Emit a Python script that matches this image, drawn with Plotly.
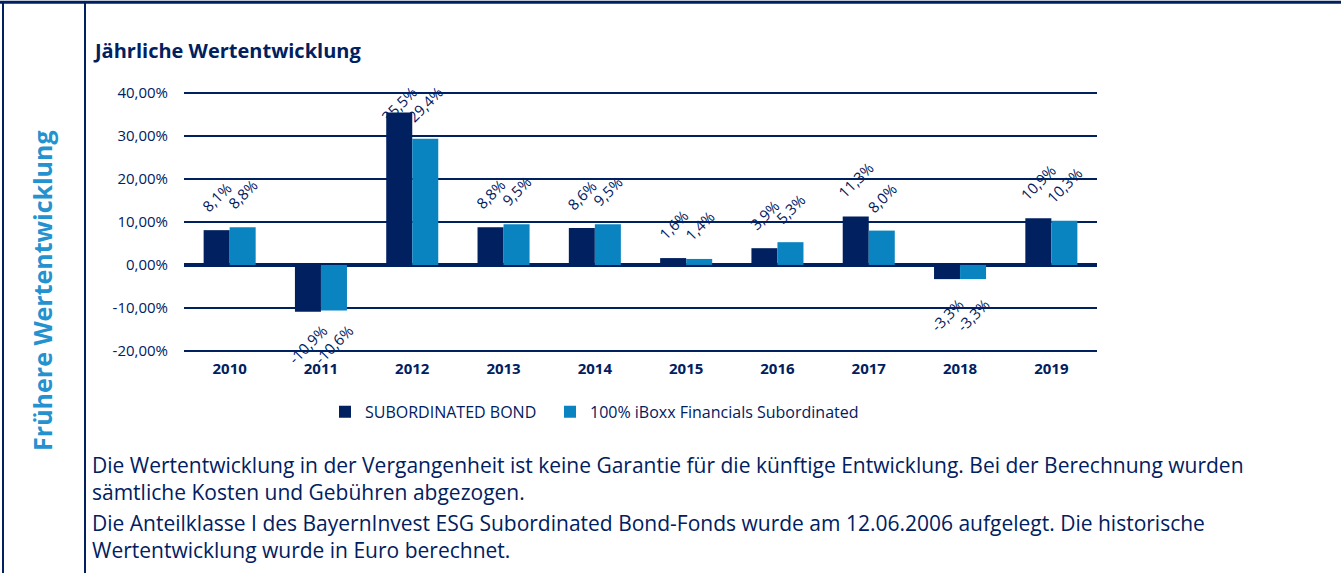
import plotly.graph_objects as go

years = ["2010", "2011", "2012", "2013", "2014", "2015", "2016", "2017", "2018", "2019"]
fund_values = [8.1, -10.9, 35.5, 8.8, 8.6, 1.6, 3.9, 11.3, -3.3, 10.9]
index_values = [8.8, -10.6, 29.4, 9.5, 9.5, 1.4, 5.3, 8.0, -3.3, 10.3]
fund_name = "SUBORDINATED BOND"
index_name = "100% iBoxx Financials Subordinated"
y_ticks = [-20, -10, 0, 10, 20, 30, 40]
footnote_1 = ("Die Wertentwicklung in der Vergangenheit ist keine Garantie für die künftige Entwicklung. Bei der Berechnung wurden"
              "<br>sämtliche Kosten und Gebühren abgezogen.")
footnote_2 = ("Die Anteilklasse I des BayernInvest ESG Subordinated Bond-Fonds wurde am 12.06.2006 aufgelegt. Die historische"
              "<br>Wertentwicklung wurde in Euro berechnet.")

NAVY = "#00205F"
LIGHT = "#0A84C0"
SIDE = "#2392CF"
FONT = "Open Sans"

W, H = 1341, 573
# pixel positions of the data range (-20 .. 40)
L, R = 184, 1097
Y40, YM20 = 93, 351
EXT = 0.5  # small range extension so edge gridlines are drawn
pxper = (YM20 - Y40) / 60.0
T = Y40 - EXT * pxper
B = YM20 + EXT * pxper
Y0 = Y40 + 40 * pxper
BAR_OFF = 13  # half bar width in px (group offset)


def px(x):
    return (x - L) / (R - L)


def py(y):
    return (B - y) / (B - T)


def fmt(v):
    return f"{v:.1f}".replace(".", ",") + "%"


fig = go.Figure()
for name, vals, col, lg in [(fund_name, fund_values, NAVY, "legend"),
                            (index_name, index_values, LIGHT, "legend2")]:
    fig.add_trace(go.Bar(
        x=years, y=vals, name=name, marker=dict(color=col, line=dict(width=0)),
        hoverinfo="x+y", legend=lg,
    ))

legend_common = dict(orientation="h", xanchor="left", y=py(412), yanchor="middle",
                     font=dict(family=FONT, size=16, color=NAVY),
                     itemwidth=30, bgcolor="rgba(0,0,0,0)")

fig.update_layout(
    width=W, height=H,
    margin=dict(l=L, r=W - R, t=T, b=H - B, pad=0),
    paper_bgcolor="white", plot_bgcolor="white",
    barmode="group", bargap=0.43, bargroupgap=0,
    font=dict(family=FONT, color=NAVY),
    showlegend=True,
    legend=dict(x=px(325), **legend_common),
    legend2=dict(x=px(550), **legend_common),
    xaxis=dict(type="category", categoryorder="array", categoryarray=years,
               range=[-0.5, len(years) - 0.5], autorange=False,
               showgrid=False, showline=False, zeroline=False,
               tickfont=dict(family=FONT, size=15, color=NAVY, weight="bold"),
               ticks="outside", ticklen=2, tickcolor="rgba(0,0,0,0)"),
    yaxis=dict(range=[-20 - EXT, 40 + EXT], autorange=False, tickvals=y_ticks,
               ticktext=[f"{v},00%" for v in y_ticks],
               showgrid=True, gridcolor=NAVY, gridwidth=2,
               zeroline=True, zerolinecolor=NAVY, zerolinewidth=4,
               showline=False,
               tickfont=dict(family=FONT, size=15, color=NAVY),
               ticks="outside", ticklen=12, tickcolor="rgba(0,0,0,0)"),
)

# frame lines
shapes = [
    dict(type="line", xref="paper", yref="paper", x0=px(0), x1=px(W), y0=py(2), y1=py(2),
         line=dict(color=NAVY, width=3)),
    dict(type="line", xref="paper", yref="paper", x0=px(3), x1=px(3), y0=py(2), y1=py(H + 10),
         line=dict(color=NAVY, width=2)),
    dict(type="line", xref="paper", yref="paper", x0=px(85), x1=px(85), y0=py(2), y1=py(H + 10),
         line=dict(color=NAVY, width=2)),
]
fig.update_layout(shapes=shapes)

ann = [
    dict(text="<b>Jährliche Wertentwicklung</b>", x=px(91), y=py(50), xanchor="left", yanchor="middle",
         font=dict(family=FONT, size=20, color=NAVY), xref="paper", yref="paper"),
    dict(text="<b>Frühere Wertentwicklung</b>", x=px(42), y=py(291), xanchor="center", yanchor="middle",
         textangle=-90, font=dict(family=FONT, size=25, color=SIDE), xref="paper", yref="paper"),
    dict(text=footnote_1, x=px(90), y=py(479), xanchor="left", yanchor="middle", align="left",
         font=dict(family=FONT, size=21, color=NAVY), xref="paper", yref="paper"),
    dict(text=footnote_2, x=px(90), y=py(537), xanchor="left", yanchor="middle", align="left",
         font=dict(family=FONT, size=21, color=NAVY), xref="paper", yref="paper"),
]

# rotated value labels, placed at each bar end (category index, data value)
for vals, side in [(fund_values, -1), (index_values, 1)]:
    for i, v in enumerate(vals):
        t = fmt(v)
        d = 21 + 3 * len(t)
        end_px = Y0 - v * pxper
        if v >= 0:
            d = min(d, end_px - 104)
            shift = d
        else:
            d = min(d, 344 - end_px)
            shift = -d
        ann.append(dict(text=t, x=i, y=v, xref="x", yref="y", xshift=side * BAR_OFF, yshift=shift,
                        xanchor="center", yanchor="middle", textangle=-45,
                        font=dict(family=FONT, size=15, color=NAVY)))

for a in ann:
    a.update(showarrow=False)
fig.update_layout(annotations=ann)

fig.write_html("out.html", config={"displayModeBar": False},
               post_script="document.body.style.margin='0';document.body.style.overflow='hidden';")
